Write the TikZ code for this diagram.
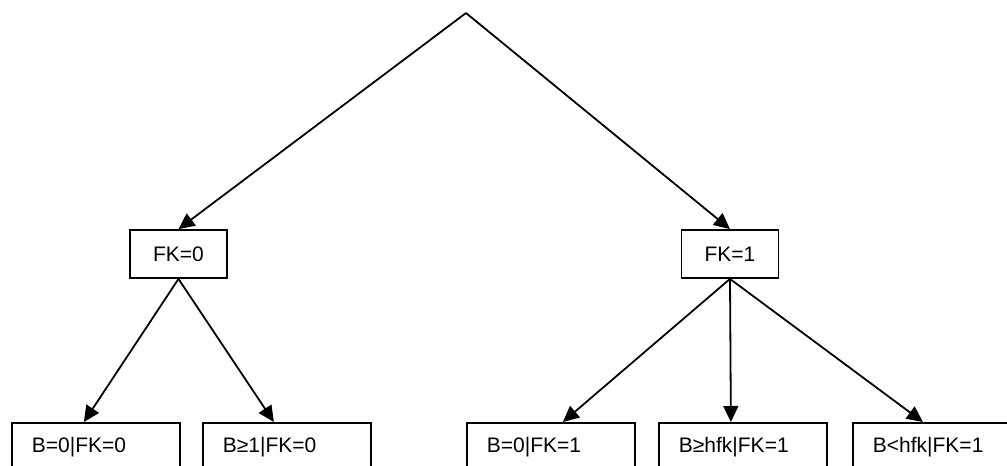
\documentclass[tikz,border=0pt]{standalone}
\usepackage{fontspec}
\setmainfont{Liberation Sans}
\usetikzlibrary{arrows.meta}
\begin{document}
\begin{tikzpicture}[x=1pt,y=-1pt,
  every node/.style={font=\fontsize{21}{25}\selectfont},
  fkbox/.style={draw, line width=1.8pt, minimum width=97pt, minimum height=48pt, inner sep=0pt},
  leafbox/.style={draw, line width=1.8pt, anchor=north west, text width=128pt, inner xsep=20pt, inner ysep=0pt, minimum height=48pt, align=left},
  conn/.style={line width=1.8pt, -{Triangle[length=16pt,width=15pt]}}]
\clip (0,0) rectangle (1007,466);
\useasboundingbox (0,0) rectangle (1007,466);
\coordinate (apex) at (466,13);
\node[fkbox] (fk0) at (178.5,254) {FK=0};
\node[fkbox] (fk1) at (730,254) {FK=1};
\node[leafbox] (b1) at (11,422) {B=0|FK=0};
\node[leafbox] (b2) at (202,422) {B≥1|FK=0};
\node[leafbox] (b3) at (466,422) {B=0|FK=1};
\node[leafbox] (b4) at (658,422) {B≥hfk|FK=1};
\node[leafbox] (b5) at (852,422) {B<hfk|FK=1};
\draw[conn] (apex) -- (fk0.north);
\draw[conn] (apex) -- (fk1.north);
\draw[conn] (fk0.south) -- ([xshift=-12pt]b1.north);
\draw[conn] (fk0.south) -- ([xshift=-13pt]b2.north);
\draw[conn] (fk1.south) -- ([xshift=12pt]b3.north);
\draw[conn] (fk1.south) -- ([xshift=-12pt]b4.north);
\draw[conn] (fk1.south) -- ([xshift=-14pt]b5.north);
\end{tikzpicture}
\end{document}
